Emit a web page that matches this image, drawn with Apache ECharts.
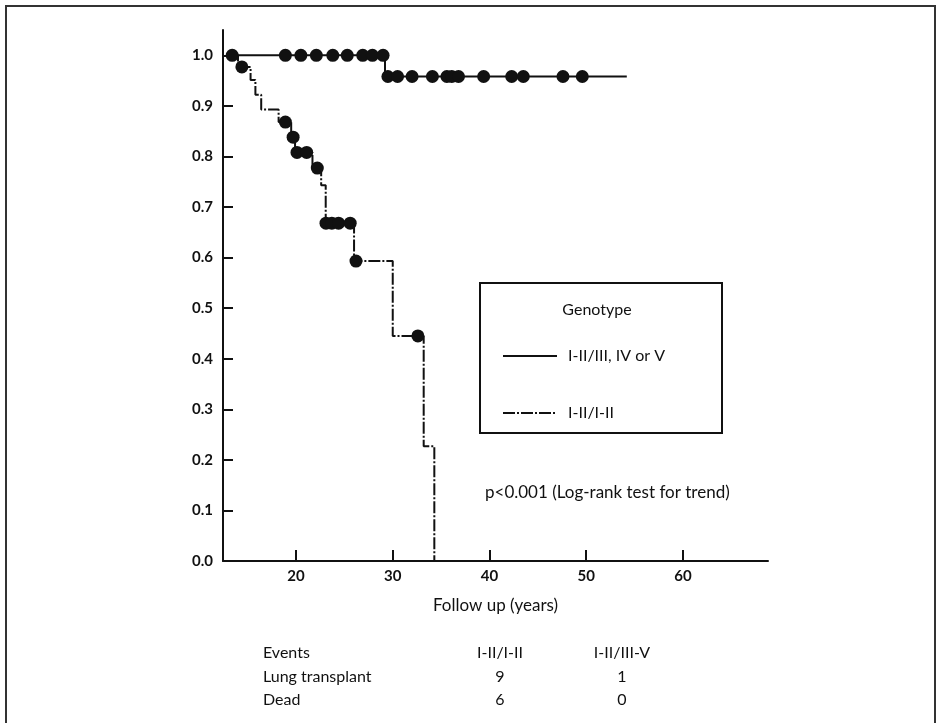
<!DOCTYPE html>
<html>
<head>
<meta charset="utf-8">
<script src="https://cdn.jsdelivr.net/npm/echarts@6/dist/echarts.min.js"></script>
<style>
  html, body { margin: 0; padding: 0; background: #fff; }
  #chart { width: 942px; height: 723px; }
</style>
</head>
<body>
<div id="chart"></div>
<script>
  // Kaplan-Meier steps, genotype I-II/III, IV or V
  var highTimes = [13.4, 29.2, 54.2];
  var highSurv = [1.0, 0.958, 0.958];
  // censored marks on that curve
  var highCensTimes = [13.4, 18.9, 20.5, 22.1, 23.8, 25.3, 26.9, 27.9, 29.0,
    29.5, 30.5, 32.0, 34.1, 35.6, 36.1, 36.8, 39.4, 42.3, 43.5, 47.6, 49.6];
  var highCensSurv = [1.0, 1.0, 1.0, 1.0, 1.0, 1.0, 1.0, 1.0, 1.0,
    0.958, 0.958, 0.958, 0.958, 0.958, 0.958, 0.958, 0.958, 0.958, 0.958, 0.958, 0.958];

  // Kaplan-Meier steps, genotype I-II/I-II
  var lowTimes = [13.4, 14.0, 15.3, 15.8, 16.4, 18.2, 19.5, 19.9, 21.7, 22.6, 23.07, 26.0, 30.0, 33.2, 34.3];
  var lowSurv = [1.0, 0.977, 0.951, 0.922, 0.893, 0.868, 0.838, 0.808, 0.777, 0.743, 0.668, 0.593, 0.445, 0.227, 0.0];
  var lowCensTimes = [14.4, 18.9, 19.7, 20.1, 21.1, 22.2, 23.1, 23.7, 24.4, 25.6, 26.2, 32.6];
  var lowCensSurv = [0.977, 0.868, 0.838, 0.808, 0.808, 0.777, 0.668, 0.668, 0.668, 0.668, 0.593, 0.445];

  var xTicks = [20, 30, 40, 50, 60];
  var yTicks = [0, 0.1, 0.2, 0.3, 0.4, 0.5, 0.6, 0.7, 0.8, 0.9, 1.0];

  var eventRows = ['Events', 'Lung transplant', 'Dead'];
  var eventLow = ['I-II/I-II', '9', '6'];
  var eventHigh = ['I-II/III-V', '1', '0'];

  function pairs(xs, ys) {
    var res = [];
    for (var i = 0; i < xs.length; i++) res.push([xs[i], ys[i]]);
    return res;
  }

  var font = 'Lato';
  var ink = '#111';

  var tableText = [];
  for (var r = 0; r < eventRows.length; r++) {
    var ty = 653 + r * 23.5;
    tableText.push({ type: 'text', x: 263, y: ty,
      style: { text: eventRows[r], font: '16px ' + font, fill: ink, verticalAlign: 'middle' } });
    tableText.push({ type: 'text', x: 500, y: ty,
      style: { text: eventLow[r], font: '16px ' + font, fill: ink, align: 'center', verticalAlign: 'middle' } });
    tableText.push({ type: 'text', x: 622, y: ty,
      style: { text: eventHigh[r], font: '16px ' + font, fill: ink, align: 'center', verticalAlign: 'middle' } });
  }

  var myChart = echarts.init(document.getElementById('chart'));
  myChart.setOption({
    animation: false,
    backgroundColor: '#fff',
    grid: { left: 223, right: 174, top: 30, bottom: 162 },
    xAxis: {
      type: 'value',
      min: 12.45,
      max: 68.8,
      name: 'Follow up (years)',
      nameLocation: 'middle',
      nameGap: 36,
      nameTextStyle: { color: ink, fontSize: 17, fontFamily: font },
      axisLine: { lineStyle: { color: ink, width: 2 } },
      axisTick: { inside: true, length: 11, customValues: xTicks, lineStyle: { color: ink, width: 2 } },
      axisLabel: { customValues: xTicks, color: ink, fontSize: 15, fontWeight: 'bold', fontFamily: font, margin: 8 },
      splitLine: { show: false }
    },
    yAxis: {
      type: 'value',
      min: 0,
      max: 1.05,
      axisLine: { show: true, lineStyle: { color: ink, width: 2 } },
      axisTick: { show: true, inside: true, length: 10, customValues: yTicks, lineStyle: { color: ink, width: 2 } },
      axisLabel: {
        customValues: yTicks, color: ink, fontSize: 15, fontWeight: 'bold', fontFamily: font, margin: 10,
        formatter: function (v) { return v.toFixed(1); }
      },
      splitLine: { show: false }
    },
    legend: {
      data: ['I-II/III, IV or V', 'I-II/I-II'],
      orient: 'vertical',
      left: 497,
      top: 343,
      itemWidth: 54,
      itemHeight: 14,
      itemGap: 41,
      itemStyle: { opacity: 0 },
      textStyle: { color: ink, fontSize: 16, fontFamily: font, padding: [0, 0, 0, 6] }
    },
    series: [
      {
        name: 'I-II/III, IV or V',
        type: 'line',
        step: 'end',
        symbol: 'none',
        data: pairs(highTimes, highSurv),
        lineStyle: { color: ink, width: 2 },
        itemStyle: { color: ink }
      },
      {
        name: 'I-II/I-II',
        type: 'line',
        step: 'end',
        symbol: 'none',
        data: pairs(lowTimes, lowSurv),
        lineStyle: { color: ink, width: 2, type: [12, 2, 2, 2] },
        itemStyle: { color: ink }
      },
      {
        name: 'censored high',
        type: 'scatter',
        symbol: 'circle',
        symbolSize: 13,
        data: pairs(highCensTimes, highCensSurv),
        itemStyle: { color: ink, opacity: 1 },
        z: 5
      },
      {
        name: 'censored low',
        type: 'scatter',
        symbol: 'circle',
        symbolSize: 13,
        data: pairs(lowCensTimes, lowCensSurv),
        itemStyle: { color: ink, opacity: 1 },
        z: 5
      }
    ],
    graphic: [
      { type: 'rect', shape: { x: 6, y: 6, width: 929, height: 760 },
        style: { fill: 'none', stroke: '#333', lineWidth: 2 } },
      { type: 'rect', shape: { x: 480, y: 283, width: 242, height: 150 },
        style: { fill: 'none', stroke: ink, lineWidth: 2 } },
      { type: 'text', x: 597, y: 310,
        style: { text: 'Genotype', font: '16px ' + font, fill: ink, align: 'center', verticalAlign: 'middle' } },
      { type: 'text', x: 485, y: 493,
        style: { text: 'p<0.001 (Log-rank test for trend)', font: '17px ' + font, fill: ink, verticalAlign: 'middle' } }
    ].concat(tableText)
  });
</script>
</body>
</html>
